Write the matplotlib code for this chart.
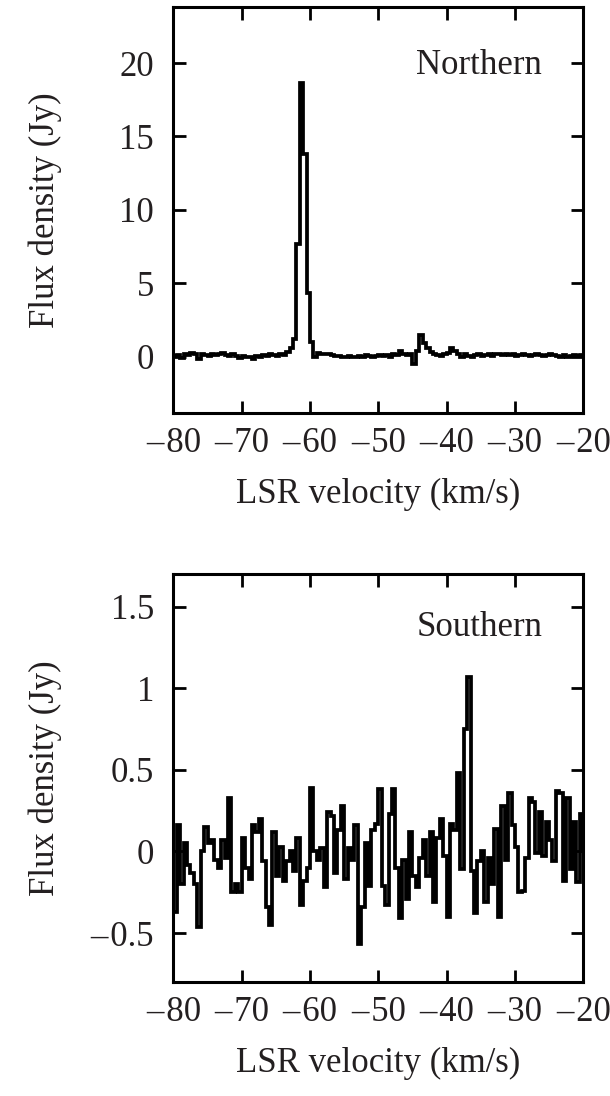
import matplotlib
matplotlib.use("Agg")
import matplotlib.pyplot as plt
import numpy as np

plt.rcParams["font.family"] = ["Liberation Serif", "DejaVu Serif"]
plt.rcParams["axes.unicode_minus"] = False

TEXT_COLOR = "#231f20"
FONT_SIZE = 25

# --------------------------------------------------------------------------- #
#  Spectra (0.5 km/s channels, first channel starts at -80.5 km/s)
# --------------------------------------------------------------------------- #

V_START = -80.5
CHAN_WIDTH = 0.5

northern_flux = [
    0.10, 0.05, 0.12, -0.10, 0.15, 0.10, 0.25, 0.20, -0.20, 0.15,
    0.10, 0.05, 0.15, 0.10, 0.20, 0.25, 0.10, 0.05, 0.20, 0.05,
    -0.10, 0.05, -0.05, 0.00, -0.15, 0.05, 0.00, 0.10, 0.05, 0.15,
    0.10, 0.05, 0.15, 0.10, 0.30, 0.60, 1.20, 7.70, 18.65, 13.80,
    4.30, 1.00, -0.05, 0.25, 0.15, 0.20, 0.15, 0.10, 0.05, 0.05,
    0.00, -0.05, 0.05, -0.05, 0.00, 0.05, 0.00, 0.10, 0.05, 0.00,
    0.05, 0.10, 0.05, 0.10, 0.00, 0.15, 0.10, 0.35, 0.20, 0.10,
    0.15, -0.50, 0.35, 1.50, 0.90, 0.55, 0.30, 0.15, 0.10, 0.05,
    0.15, 0.25, 0.60, 0.35, 0.20, 0.00, 0.15, 0.05, 0.00, 0.10,
    0.15, 0.05, 0.10, 0.20, 0.05, 0.15, 0.20, 0.10, 0.15, 0.10,
    0.15, 0.05, 0.10, 0.15, 0.10, 0.05, 0.10, 0.15, 0.10, 0.05,
    0.10, 0.15, 0.10, 0.05, -0.05, 0.10, 0.00, 0.05, 0.10, 0.05,
    0.10, 0.05,
]

southern_flux = [
    0.48, -0.37, 0.16, -0.20, 0.05, -0.08, -0.13, -0.20, -0.46, 0.00,
    0.15, 0.05, 0.07, -0.05, -0.10, 0.07, -0.04, 0.33, -0.25, -0.20,
    -0.25, 0.08, -0.10, -0.17, 0.16, 0.12, 0.20, -0.06, -0.34, -0.45,
    0.12, -0.15, 0.03, -0.18, -0.06, 0.00, -0.12, 0.08, -0.33, -0.18,
    -0.10, 0.39, 0.00, -0.05, 0.02, -0.22, 0.24, 0.22, -0.13, 0.13,
    0.28, -0.17, 0.02, -0.05, 0.16, -0.57, -0.34, 0.05, -0.21, 0.13,
    0.17, 0.38, -0.21, -0.33, 0.23, 0.38, -0.10, -0.41, -0.05, -0.29,
    0.12, -0.15, -0.22, -0.04, 0.07, -0.15, 0.12, -0.31, 0.08, 0.20,
    -0.03, -0.40, 0.17, 0.13, 0.48, -0.11, 0.75, 1.07, -0.12, -0.38,
    -0.06, 0.00, -0.31, -0.04, -0.20, 0.14, -0.40, 0.28, -0.05, 0.36,
    0.16, 0.03, -0.25, -0.24, -0.04, 0.33, 0.30, -0.01, 0.24, -0.03,
    0.18, 0.07, -0.06, 0.37, 0.36, -0.18, 0.33, -0.11, 0.18, -0.19,
    0.23, 0.00,
]

x_ticks = [-80, -70, -60, -50, -40, -30, -20]
north_yticks = [0, 5, 10, 15, 20]
south_yticks = [-0.5, 0, 0.5, 1, 1.5]


def tick_text(t):
    # dash followed by a hair space, as in the original figure
    s = f"{t:g}"
    return "\u2013\u200a" + s[1:] if s.startswith("-") else s


def draw_panel(ax, flux, yticks, ylim, label, label_y):
    flux = np.asarray(flux)
    edges = V_START + CHAN_WIDTH * np.arange(len(flux) + 1)
    ax.stairs(flux, edges, baseline=None, color="black", linewidth=2.7)

    ax.set_xlim(-80, -20)
    ax.set_ylim(*ylim)
    ax.set_xticks(x_ticks)
    ax.set_xticklabels([tick_text(t) for t in x_ticks])
    ax.set_yticks(yticks)
    ax.set_yticklabels([tick_text(t) for t in yticks])

    ax.tick_params(direction="in", length=9, width=2, top=True, right=True,
                   labelsize=FONT_SIZE, labelcolor=TEXT_COLOR)
    ax.tick_params(axis="x", pad=10)
    ax.tick_params(axis="y", pad=14)
    for spine in ax.spines.values():
        spine.set_linewidth(2.2)

    ax.set_xlabel("LSR velocity (km/s)", fontsize=FONT_SIZE, color=TEXT_COLOR, va="center")
    ax.set_ylabel("Flux density (Jy)", fontsize=FONT_SIZE, color=TEXT_COLOR, va="center")
    ax.xaxis.set_label_coords(0.5, -0.2)
    ax.yaxis.set_label_coords(-0.313, 0.5)
    ax.text(0.9, label_y, label, transform=ax.transAxes, ha="right", va="center",
            fontsize=FONT_SIZE, color=TEXT_COLOR)


fig = plt.figure(figsize=(6.1, 10.96), dpi=100)
ax_n = fig.add_axes([0.2843, 0.6232, 0.6718, 0.3707])
ax_s = fig.add_axes([0.2843, 0.1040, 0.6718, 0.3723])

draw_panel(ax_n, northern_flux, north_yticks, (-3.85, 23.85), "Northern", 0.855)
draw_panel(ax_s, southern_flux, south_yticks, (-0.8, 1.7), "Southern", 0.87)

fig.savefig("out.png", dpi=100)
